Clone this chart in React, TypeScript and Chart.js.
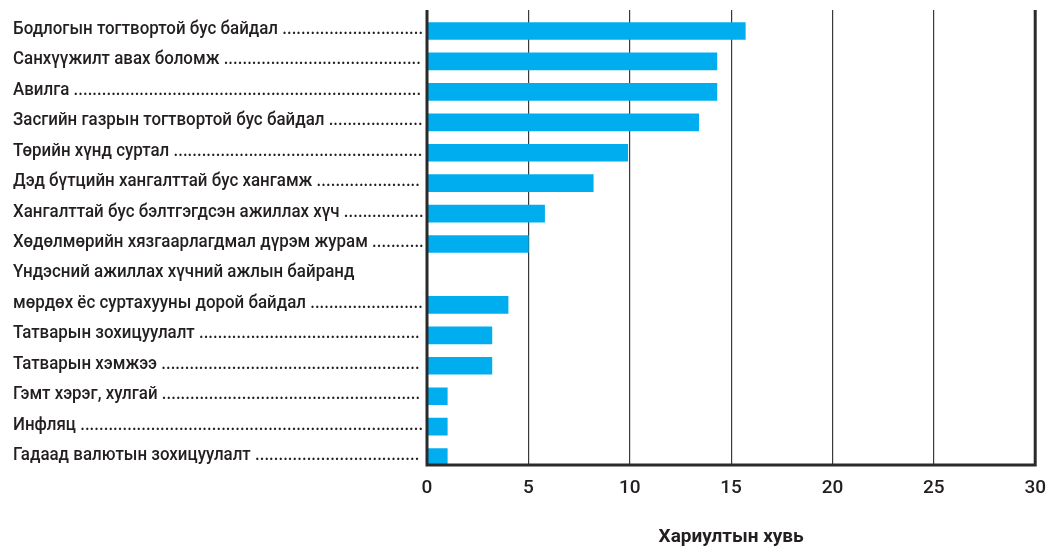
import React, { useEffect, useRef } from "react";
import { Chart, registerables } from "chart.js";

Chart.register(...registerables);

// ---- data ----
const categories: (string | string[])[] = [
  "Бодлогын тогтвортой бус байдал",
  "Санхүүжилт авах боломж",
  "Авилга",
  "Засгийн газрын тогтвортой бус байдал",
  "Төрийн хүнд суртал",
  "Дэд бүтцийн хангалттай бус хангамж",
  "Хангалттай бус бэлтгэгдсэн ажиллах хүч",
  "Хөдөлмөрийн хязгаарлагдмал дүрэм журам",
  ["Үндэсний ажиллах хүчний ажлын байранд", "мөрдөх ёс суртахууны дорой байдал"],
  "Татварын зохицуулалт",
  "Татварын хэмжээ",
  "Гэмт хэрэг, хулгай",
  "Инфляц",
  "Гадаад валютын зохицуулалт",
];
const shares: number[] = [15.7, 14.3, 14.3, 13.4, 9.9, 8.2, 5.8, 5.0, 4.0, 3.2, 3.2, 1.0, 1.0, 1.0];
const xTickValues: number[] = [0, 5, 10, 15, 20, 25, 30];
const xTitle = "Хариултын хувь";

// ---- style ----
const FONT = "Roboto, 'Noto Sans', sans-serif";
const TEXT = "#231f20";
const BAR = "#00aeef";
const LABEL_X = 13;
const LABEL_SCALE = 0.89;

type Row = { text: string; value: number | null };
// each line of a label takes a row; the bar sits on its last line
const rows: Row[] = [];
categories.forEach((c, i) => {
  const lines = Array.isArray(c) ? c : [c];
  lines.forEach((ln, j) => rows.push({ text: ln, value: j === lines.length - 1 ? shares[i] : null }));
});

const leaderLabels = {
  id: "leaderLabels",
  afterDraw(chart: any) {
    const { ctx, chartArea } = chart;
    const y = chart.scales.y;
    ctx.save();
    ctx.font = `500 19px ${FONT}`;
    ctx.fillStyle = TEXT;
    ctx.textAlign = "left";
    ctx.textBaseline = "alphabetic";
    ctx.scale(LABEL_SCALE, 1);
    const avail = chartArea.left - 3 - LABEL_X;
    rows.forEach((r, i) => {
      let s = r.text;
      if (r.value !== null) {
        s += " ";
        while (ctx.measureText(s + ".").width * LABEL_SCALE <= avail) s += ".";
      }
      ctx.fillText(s, LABEL_X / LABEL_SCALE, y.getPixelForValue(i) + 3);
    });
    ctx.restore();
  },
};

const frame = {
  id: "frame",
  afterDatasetsDraw(chart: any) {
    const { ctx, chartArea: a } = chart;
    ctx.save();
    ctx.strokeStyle = "#2a2a2a";
    ctx.lineWidth = 3;
    ctx.beginPath();
    ctx.moveTo(a.left, a.top);
    ctx.lineTo(a.left, a.bottom);
    ctx.lineTo(a.right, a.bottom);
    ctx.lineTo(a.right, a.top);
    ctx.stroke();
    ctx.restore();
  },
};

export default function App() {
  const ref = useRef<HTMLCanvasElement | null>(null);
  useEffect(() => {
    if (!ref.current) return;
    const data = rows
      .map((r, i) => ({ r, i }))
      .filter(({ r }) => r.value !== null)
      .map(({ r, i }) => ({ x: r.value as number, y: i }));
    const chart = new Chart(ref.current, {
      type: "bar",
      data: {
        datasets: [
          {
            data,
            backgroundColor: BAR,
            borderWidth: 0,
            barThickness: 17,
          },
        ],
      },
      options: {
        indexAxis: "y",
        animation: false,
        responsive: false,
        maintainAspectRatio: false,
        layout: { padding: { left: 427, right: 15, top: 10, bottom: 0 } },
        plugins: { legend: { display: false }, tooltip: { enabled: false } },
        scales: {
          y: {
            type: "linear",
            display: false,
            reverse: true,
            offset: false,
            min: -0.69,
            max: rows.length - 1 + 0.26,
          },
          x: {
            type: "linear",
            min: xTickValues[0],
            max: xTickValues[xTickValues.length - 1],
            afterBuildTicks: (s: any) => {
              s.ticks = xTickValues.map((v) => ({ value: v }));
            },
            afterFit: (s: any) => {
              s.height = 82;
            },
            border: { display: false },
            grid: {
              color: (c: any) =>
                c.tick && (c.tick.value === 0 || c.tick.value === 30) ? "rgba(0,0,0,0)" : "#3a3a3a",
              lineWidth: 1.2,
              drawTicks: false,
            },
            ticks: {
              padding: 12,
              color: TEXT,
              font: { family: FONT, size: 19, weight: "500" },
            },
            title: {
              display: true,
              text: xTitle,
              color: TEXT,
              font: { family: FONT, size: 19, weight: "bold", lineHeight: 1 },
              padding: { top: 0, bottom: 0 },
            },
          },
        },
      },
      plugins: [leaderLabels, frame],
    });
    return () => chart.destroy();
  }, []);
  return (
    <div style={{ position: "fixed", left: 0, top: 0, width: 1058, height: 547, background: "#fff" }}>
      <canvas ref={ref} width={1058} height={547} style={{ width: 1058, height: 547, display: "block" }} />
    </div>
  );
}
